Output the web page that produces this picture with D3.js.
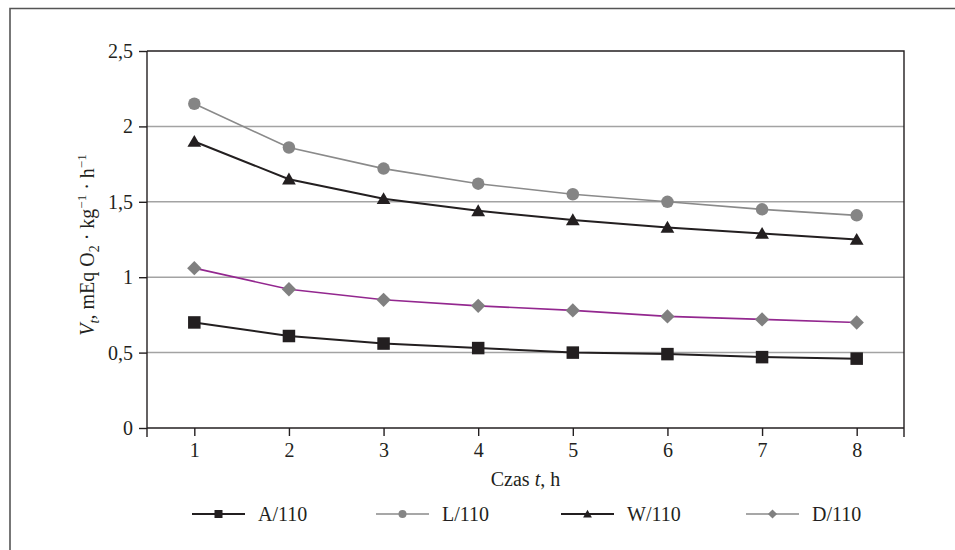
<!DOCTYPE html>
<html><head><meta charset="utf-8">
<script src="https://cdn.jsdelivr.net/npm/d3@7"></script>
<style>body{margin:0;background:#fff}svg{display:block}text{font-family:"Liberation Serif","Times New Roman",serif;fill:#231f20}</style>
</head><body><svg id="c" width="955" height="550"></svg>
<script>
const hours = [1,2,3,4,5,6,7,8];
const yTicks = [0,0.5,1,1.5,2,2.5];
const seriesNames = ["A/110","L/110","W/110","D/110"];
const valuesA = [0.70,0.61,0.56,0.53,0.50,0.49,0.47,0.46];
const valuesL = [2.15,1.86,1.72,1.62,1.55,1.50,1.45,1.41];
const valuesW = [1.90,1.65,1.52,1.44,1.38,1.33,1.29,1.25];
const valuesD = [1.06,0.92,0.85,0.81,0.78,0.74,0.72,0.70];

const series = [
  {name:seriesNames[0], values:valuesA, line:"#231f20", lw:2, marker:"square", fill:"#231f20"},
  {name:seriesNames[1], values:valuesL, line:"#8a8a8a", lw:1.6, marker:"circle", fill:"#858585"},
  {name:seriesNames[2], values:valuesW, line:"#231f20", lw:2, marker:"triangle", fill:"#231f20"},
  {name:seriesNames[3], values:valuesD, line:"#93278f", lw:1.6, marker:"diamond", fill:"#808080"}
];

const svg = d3.select("#c");
const L=147, R=904, T=51, B=428;
const x = d3.scalePoint().domain(hours).range([L,R]).padding(0.5);
const y = d3.scaleLinear().domain([0,2.5]).range([B,T]);

// outer frame
svg.append("path").attr("d","M10,560 L10,8.5 L965,8.5").attr("fill","none").attr("stroke","#555").attr("stroke-width",1.6);

// gridlines
svg.append("g").selectAll("line").data(yTicks.filter(d=>d>0&&d<2.5)).join("line")
  .attr("x1",L).attr("x2",R).attr("y1",d=>y(d)).attr("y2",d=>y(d))
  .attr("stroke","#a3a3a3").attr("stroke-width",1.5);
// top and right border of plot
svg.append("path").attr("d",`M${L},${y(2.5)} L${R},${y(2.5)} L${R},${B+9}`).attr("fill","none").attr("stroke","#231f20").attr("stroke-width",1.4);

const fmt = d=>String(d).replace(".",",");
const ya = svg.append("g").attr("transform",`translate(${L},0)`)
  .call(d3.axisLeft(y).tickValues(yTicks).tickSize(8).tickPadding(6).tickFormat(fmt));
ya.select(".domain").attr("d",`M0,${T}V${B+9}`).attr("stroke","#231f20").attr("stroke-width",1.4);
ya.selectAll(".tick line").attr("stroke","#231f20").attr("stroke-width",1.4);
ya.selectAll("text").attr("font-size",20).attr("font-family","Liberation Serif").attr("fill","#231f20");

const xa = svg.append("g").attr("transform",`translate(0,${B})`)
  .call(d3.axisBottom(x).tickSize(8).tickPadding(7));
xa.select(".domain").attr("d",`M${L},0H${R}`).attr("stroke","#231f20").attr("stroke-width",1.4);
xa.selectAll(".tick line").attr("stroke","#231f20").attr("stroke-width",1.4);
xa.selectAll("text").attr("font-size",20).attr("font-family","Liberation Serif").attr("fill","#231f20");

// axis titles
const xt = svg.append("text").attr("x",(L+R)/2).attr("y",486).attr("text-anchor","middle").attr("font-size",20);
xt.append("tspan").text("Czas ");
xt.append("tspan").attr("font-style","italic").text("t");
xt.append("tspan").text(", h");

const yt = svg.append("text").attr("transform","translate(94,245) rotate(-90)").attr("text-anchor","middle").attr("font-size",20);
yt.append("tspan").attr("font-style","italic").text("V");
yt.append("tspan").attr("font-style","italic").attr("font-size",14).attr("dy",5).text("t");
yt.append("tspan").attr("dy",-5).text(", mEq O");
yt.append("tspan").attr("font-size",14).attr("dy",5).text("2");
yt.append("tspan").attr("dy",-5).text(" · kg");
yt.append("tspan").attr("font-size",13).attr("dy",-8).text("−1");
yt.append("tspan").attr("dy",8).text(" · h");
yt.append("tspan").attr("font-size",13).attr("dy",-8).text("−1");

function marker(g, type, size, fill){
  const s=size/2;
  if(type==="square") g.append("rect").attr("x",-s).attr("y",-s).attr("width",size).attr("height",size).attr("fill",fill);
  else if(type==="circle") g.append("circle").attr("r",s).attr("fill",fill);
  else if(type==="triangle") g.append("path").attr("d",`M0,${-s*1.05}L${s*1.1},${s*0.85}L${-s*1.1},${s*0.85}Z`).attr("fill",fill);
  else if(type==="diamond") g.append("path").attr("d",`M0,${-s*1.15}L${s*1.15},0L0,${s*1.15}L${-s*1.15},0Z`).attr("fill",fill);
}

const line = d3.line().x((d,i)=>x(hours[i])).y(d=>y(d));
series.forEach(s=>{
  svg.append("path").datum(s.values).attr("d",line).attr("fill","none").attr("stroke",s.line).attr("stroke-width",s.lw);
  s.values.forEach((v,i)=>{
    const g=svg.append("g").attr("transform",`translate(${x(hours[i])},${y(v)})`);
    marker(g,s.marker,12.5,s.fill);
  });
});

// legend
const legX = [192,376,561,746];
series.forEach((s,i)=>{
  const g=svg.append("g").attr("transform",`translate(${legX[i]},514)`);
  g.append("line").attr("x1",0).attr("x2",53).attr("stroke",s.line==="#93278f"?"#8a8a8a":s.line).attr("stroke-width",s.lw);
  const m=g.append("g").attr("transform","translate(26.5,0)");
  marker(m,s.marker,8,s.fill);
  g.append("text").attr("x",66).attr("y",7).attr("font-size",20).text(s.name);
});
</script></body></html>
